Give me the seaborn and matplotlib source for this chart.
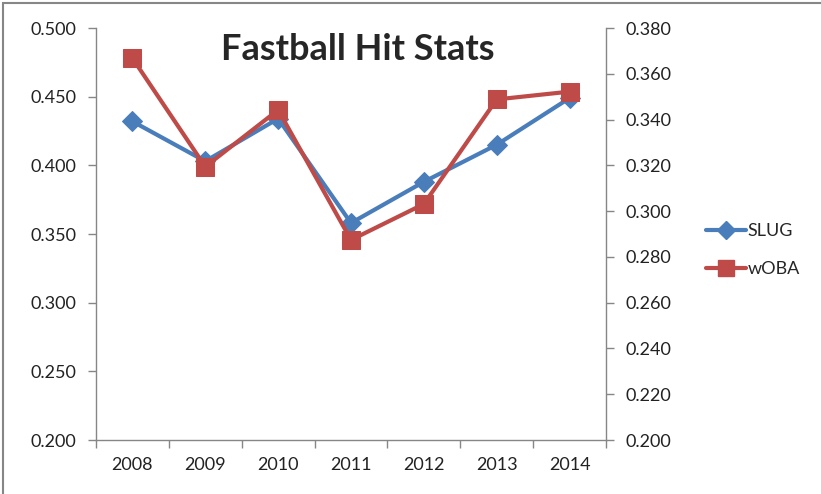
import matplotlib
matplotlib.use("Agg")
import matplotlib.pyplot as plt
import seaborn as sns
import pandas as pd
from matplotlib.lines import Line2D
from matplotlib.patches import Rectangle

years = ["2008", "2009", "2010", "2011", "2012", "2013", "2014"]
slug = [0.432, 0.403, 0.434, 0.358, 0.388, 0.415, 0.449]
woba = [0.3668, 0.3194, 0.3442, 0.2874, 0.3031, 0.3488, 0.3522]

left_ticks = [0.200, 0.250, 0.300, 0.350, 0.400, 0.450, 0.500]
right_ticks = [0.200, 0.220, 0.240, 0.260, 0.280, 0.300, 0.320, 0.340, 0.360, 0.380]

blue = "#4A7EBB"
red = "#BE4B48"
grey = "#868686"

sns.set_style("white")
plt.rcParams["font.family"] = ["Lato", "DejaVu Sans"]

df = pd.DataFrame({"pos": range(len(years)), "year": years, "SLUG": slug, "wOBA": woba})

fig = plt.figure(figsize=(8.21, 4.94), dpi=100)
ax = fig.add_axes([96 / 821, 1 - 440 / 494, (606 - 96) / 821, (440 - 28) / 494])
ax2 = ax.twinx()

# SLUG on the left axis, wOBA on the right (drawn on top like the original)
sns.lineplot(data=df, x="pos", y="SLUG", ax=ax, color=blue, lw=3, marker="D",
             markersize=10, markeredgecolor=blue, zorder=3)
sns.lineplot(data=df, x="pos", y="wOBA", ax=ax2, color=red, lw=3, marker="s",
             markersize=12.5, markeredgecolor=red, zorder=3)

ax.set_ylim(0.2, 0.5)
ax2.set_ylim(0.2, 0.38)
ax.set_yticks(left_ticks)
ax.set_yticklabels([f"{v:.3f}" for v in left_ticks])
ax2.set_yticks(right_ticks)
ax2.set_yticklabels([f"{v:.3f}" for v in right_ticks])

ax.set_xlim(-0.5, len(years) - 0.5)
ax.set_xticks(range(len(years)))
ax.set_xticklabels(years)
ax.set_xticks([i - 0.5 for i in range(len(years) + 1)], minor=True)
ax.tick_params(axis="x", which="major", length=0, pad=12, labelsize=13, colors="#222222")
ax.tick_params(axis="x", which="minor", length=6, color=grey, width=1, bottom=True)
ax.tick_params(axis="y", length=6, color=grey, width=1, left=True, pad=8,
               labelsize=13, labelcolor="#222222")
ax2.tick_params(axis="y", length=6, color=grey, width=1, right=True, pad=8,
                labelsize=13, labelcolor="#222222")

for a in (ax, ax2):
    a.set_xlabel("")
    a.set_ylabel("")
    for side in a.spines:
        a.spines[side].set_visible(False)
ax.spines["left"].set_visible(True)
ax.spines["bottom"].set_visible(True)
ax2.spines["right"].set_visible(True)
for sp in (ax.spines["left"], ax.spines["bottom"], ax2.spines["right"]):
    sp.set_color(grey)
    sp.set_linewidth(1)

fig.text(358 / 821, 1 - 50 / 494, "Fastball Hit Stats", ha="center", va="center",
         fontsize=26, fontweight="bold")

handles = [
    Line2D([], [], color=blue, lw=3, marker="D", markersize=9, markeredgecolor=blue),
    Line2D([], [], color=red, lw=3, marker="s", markersize=11, markeredgecolor=red),
]
fig.legend(handles, ["SLUG", "wOBA"], loc="center left",
           bbox_to_anchor=(690 / 821, 1 - 250 / 494), frameon=False,
           fontsize=13, handlelength=2.2, handletextpad=0.1, labelspacing=1.2)

fig.patches.append(Rectangle((3 / 821, -0.1), 1.2, 1 - 3 / 494 + 0.1,
                             transform=fig.transFigure, fill=False,
                             edgecolor=grey, lw=1.5))

fig.savefig("out.png", dpi=100)
